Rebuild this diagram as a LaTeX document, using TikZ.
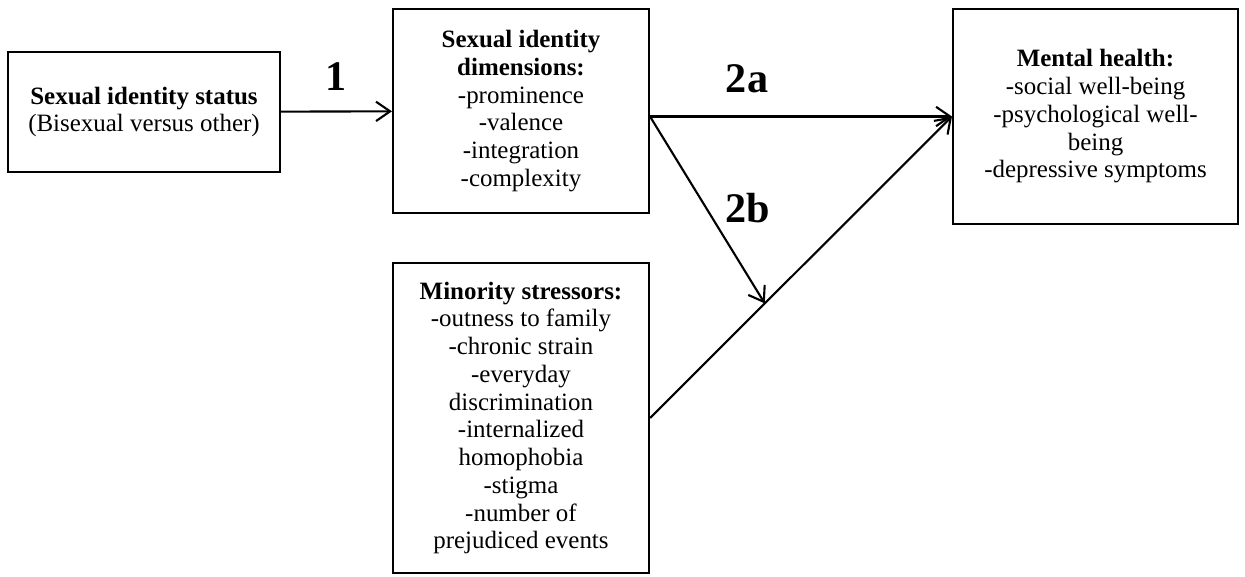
\documentclass[tikz,border=0pt]{standalone}
\usepackage{fontspec}
\setmainfont{Liberation Serif}
\usetikzlibrary{arrows.meta,calc}
\begin{document}
\begin{tikzpicture}[x=0.02cm,y=-0.02cm,
		box/.style={draw,line width=1.2pt,align=center,inner sep=0pt,font=\fontsize{14.2}{15.8}\selectfont},
		lbl/.style={font=\fontsize{24}{26}\selectfont\bfseries},
		arr/.style={line width=1.2pt,-{Straight Barb[length=8pt,width=11pt]}}]
		\useasboundingbox (0,0) rectangle (1245,577);
		\node[box,minimum width=5.44cm,minimum height=2.4cm](status) at (144,112){\textbf{Sexual identity status}\\(Bisexual versus other)};
		\node[box,minimum width=5.12cm,minimum height=4.08cm](dims) at (521,111){\textbf{Sexual identity}\\\textbf{dimensions:}\\-prominence\\-valence\\-integration\\-complexity};
		\node[box,minimum width=5.12cm,minimum height=6.2cm](stress) at (521,418){\textbf{Minority stressors:}\\-outness to family\\-chronic strain\\-everyday\\discrimination\\-internalized\\homophobia\\-stigma\\-number of\\prejudiced events};
		\node[box,minimum width=5.7cm,minimum height=4.3cm](health) at (1095.5,116.5){\textbf{Mental health:}\\-social well-being\\-psychological well-\\being\\-depressive symptoms};
		\coordinate (fork) at (dims.east |- health.west);
		\coordinate (mod) at ($(stress.east)!0.38!(health.west)$);
		\draw[arr](status)--(dims);
		\draw[arr](fork)--(health.west);
		\draw[arr](stress.east)--(health.west);
		\draw[arr](fork)--(mod);
		\node[lbl](l1) at (336,77){1};
		\node[lbl](l2a) at (747,79){2a};
		\node[lbl](l2b) at (748,208){2b};
	\end{tikzpicture}
\end{document}
